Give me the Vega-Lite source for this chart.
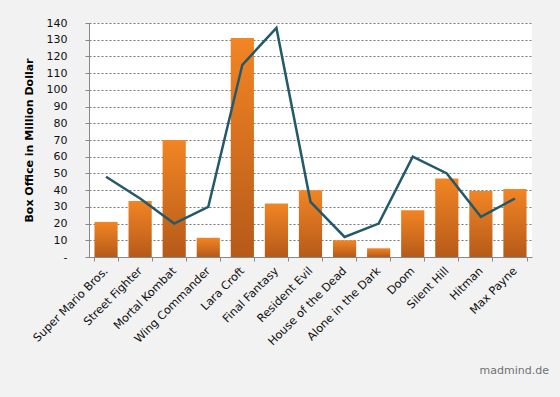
{
  "$schema": "https://vega.github.io/schema/vega-lite/v6.json",
  "autosize": "none",
  "width": 443,
  "height": 234,
  "padding": {"left": 89, "top": 23, "right": 28, "bottom": 140},
  "background": "#f2f2f2",
  "config": {
    "view": {"fill": "white", "stroke": null},
    "font": "DejaVu Sans",
    "axisY": {
      "titleFontSize": 11,
      "titleFontWeight": "bold",
      "titleColor": "#000",
      "titlePadding": 12,
      "labelExpr": "datum.value == 0 ? '-' : datum.label",
      "labelOverlap": false,
      "labelFontSize": 11,
      "labelColor": "#111",
      "labelPadding": 18,
      "tickSize": 4,
      "tickColor": "#888",
      "domainColor": "#888",
      "grid": true,
      "gridColor": "#777",
      "gridDash": [2, 2],
      "gridWidth": 1
    }
  },
  "title": {
    "text": "madmind.de",
    "orient": "bottom",
    "anchor": "end",
    "color": "#707070",
    "fontSize": 11,
    "fontWeight": "normal",
    "offset": 18,
    "dx": 17
  },
  "data": {
    "values": [
      {"game": "Super Mario Bros.", "box": 21, "budget": 48},
      {"game": "Street Fighter", "box": 33.5, "budget": 35},
      {"game": "Mortal Kombat", "box": 70, "budget": 20},
      {"game": "Wing Commander", "box": 11.5, "budget": 30},
      {"game": "Lara Croft", "box": 131, "budget": 115},
      {"game": "Final Fantasy", "box": 32, "budget": 137},
      {"game": "Resident Evil", "box": 40, "budget": 33},
      {"game": "House of the Dead", "box": 10, "budget": 12},
      {"game": "Alone in the Dark", "box": 5.2, "budget": 20},
      {"game": "Doom", "box": 28, "budget": 60},
      {"game": "Silent Hill", "box": 47, "budget": 50},
      {"game": "Hitman", "box": 39.5, "budget": 24},
      {"game": "Max Payne", "box": 40.7, "budget": 35}
    ]
  },
  "encoding": {
    "x": {
      "field": "game",
      "type": "nominal",
      "sort": null,
      "scale": {"paddingInner": 0.32, "paddingOuter": 0.16},
      "axis": {
        "title": null,
        "labelAngle": -45,
        "labelAlign": "right",
        "labelBaseline": "middle",
        "labelFontSize": 11.3,
        "labelColor": "#111",
        "labelPadding": 8,
        "labelDx": 4,
        "labelOverlap": false,
        "tickBand": "extent",
        "tickColor": "#888",
        "tickSize": 4,
        "domainColor": "#888",
        "grid": false
      }
    }
  },
  "layer": [
    {
      "mark": {
        "type": "bar",
        "color": {
          "gradient": "linear",
          "x1": 0, "y1": 0, "x2": 0, "y2": 1,
          "stops": [
            {"offset": 0, "color": "#f28524"},
            {"offset": 1, "color": "#b65a19"}
          ]
        }
      },
      "encoding": {
        "y": {
          "field": "box",
          "type": "quantitative",
          "scale": {"domain": [0, 140], "nice": false},
          "axis": {"values": [0,10,20,30,40,50,60,70,80,90,100,110,120,130,140], "title": "Box Office in Million Dollar"}
        }
      }
    },
    {
      "mark": {"type": "line", "color": "#24596a", "strokeWidth": 2.5},
      "encoding": {
        "y": {"field": "budget", "type": "quantitative",
          "axis": {"values": [0,10,20,30,40,50,60,70,80,90,100,110,120,130,140], "title": "Box Office in Million Dollar"}}
      }
    }
  ]
}
